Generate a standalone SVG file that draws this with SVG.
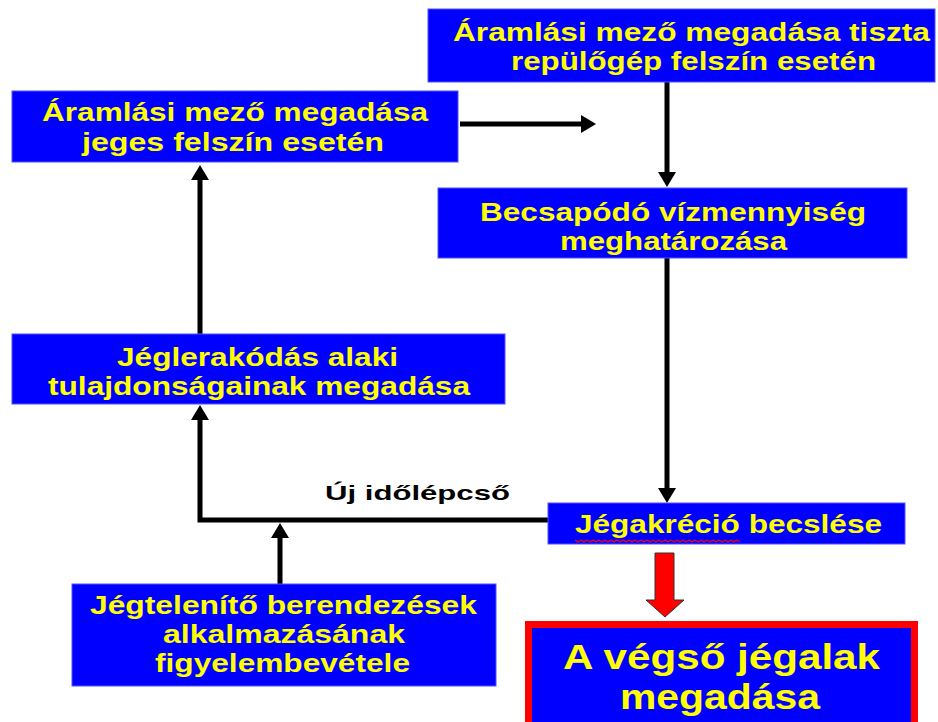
<svg xmlns="http://www.w3.org/2000/svg" width="938" height="722" viewBox="0 0 938 722">
<style>
.box{fill:#0000FF;stroke:#5050FF;stroke-width:1}
.t{font-family:"Liberation Sans",Arial,sans-serif;font-weight:bold;fill:#FFFF00;font-size:25px}
.big{font-size:35px}
.lbl{font-family:"Liberation Sans",Arial,sans-serif;font-weight:bold;fill:#000;font-size:21px}
.c{fill:none;stroke:#000;stroke-width:5;stroke-linejoin:miter}
</style>
<defs>
<marker id="ah" viewBox="0 0 15 18" refX="2" refY="9" markerWidth="15" markerHeight="18" markerUnits="userSpaceOnUse" orient="auto">
<path d="M0,0 L15,9 L0,18 z" fill="#000"/>
</marker>
</defs>
<rect width="938" height="722" fill="#FFFFFF"/>
<g id="connectors">
<path class="c" d="M460,124 H583" marker-end="url(#ah)"/>
<path class="c" d="M667,82 V174" marker-end="url(#ah)"/>
<path class="c" d="M667,258 V490" marker-end="url(#ah)"/>
<path class="c" d="M548,520 H200 V418" marker-end="url(#ah)"/>
<path class="c" d="M200,334 V178" marker-end="url(#ah)"/>
<path class="c" d="M280,584 V536" marker-end="url(#ah)"/>
<path d="M655,553 H674 V600 H684 L665,617 L646,600 H655 Z" fill="#FF0000" stroke="#333" stroke-width="1"/>
<text class="lbl" x="325" y="500" textLength="185" lengthAdjust="spacingAndGlyphs">Új időlépcső</text>
</g>
<g id="n1">
<rect class="box" x="428" y="9" width="507" height="73"/>
<text class="t" x="453" y="41" textLength="477" lengthAdjust="spacingAndGlyphs">Áramlási mező megadása tiszta</text>
<text class="t" x="511" y="70" textLength="365" lengthAdjust="spacingAndGlyphs">repülőgép felszín esetén</text>
</g>
<g id="n2">
<rect class="box" x="12" y="91" width="446" height="71"/>
<text class="t" x="42" y="121" textLength="386" lengthAdjust="spacingAndGlyphs">Áramlási mező megadása</text>
<text class="t" x="82" y="151" textLength="302" lengthAdjust="spacingAndGlyphs">jeges felszín esetén</text>
</g>
<g id="n3">
<rect class="box" x="438" y="188" width="469" height="70"/>
<text class="t" x="480" y="221" textLength="386" lengthAdjust="spacingAndGlyphs">Becsapódó vízmennyiség</text>
<text class="t" x="560" y="250" textLength="227" lengthAdjust="spacingAndGlyphs">meghatározása</text>
</g>
<g id="n4">
<rect class="box" x="12" y="334" width="493" height="70"/>
<text class="t" x="117" y="366" textLength="281" lengthAdjust="spacingAndGlyphs">Jéglerakódás alaki</text>
<text class="t" x="48" y="395" textLength="422" lengthAdjust="spacingAndGlyphs">tulajdonságainak megadása</text>
</g>
<g id="n5">
<rect class="box" x="548" y="503" width="357" height="41"/>
<text class="t" x="575" y="533" textLength="307" lengthAdjust="spacingAndGlyphs">Jégakréció becslése</text>
<path d="M575,540 l3,2 l3,-2 l3,2 l3,-2 l3,2 l3,-2 l3,2 l3,-2 l3,2 l3,-2 l3,2 l3,-2 l3,2 l3,-2 l3,2 l3,-2 l3,2 l3,-2 l3,2 l3,-2 l3,2 l3,-2 l3,2 l3,-2 l3,2 l3,-2 l3,2 l3,-2 l3,2 l3,-2 l3,2 l3,-2 l3,2 l3,-2 l3,2 l3,-2 l3,2 l3,-2 l3,2 l3,-2 l3,2 l3,-2 l3,2 l3,-2 l3,2 l3,-2 l3,2 l3,-2 l3,2 l3,-2 l3,2 l3,-2 l3,2 l3,-2 l3,2" fill="none" stroke="#FF0000" stroke-width="1.2"/>
</g>
<g id="n6">
<rect class="box" x="72" y="584" width="424" height="102"/>
<text class="t" x="90" y="614" textLength="387" lengthAdjust="spacingAndGlyphs">Jégtelenítő berendezések</text>
<text class="t" x="163" y="643" textLength="242" lengthAdjust="spacingAndGlyphs">alkalmazásának</text>
<text class="t" x="155" y="672" textLength="255" lengthAdjust="spacingAndGlyphs">figyelembevétele</text>
</g>
<g id="n7">
<rect x="528.5" y="624.5" width="386" height="104" fill="#0000FF" stroke="#FF0000" stroke-width="7"/>
<text class="t big" x="563" y="669" textLength="317" lengthAdjust="spacingAndGlyphs">A végső jégalak</text>
<text class="t big" x="620" y="709" textLength="200" lengthAdjust="spacingAndGlyphs">megadása</text>
</g>
</svg>
